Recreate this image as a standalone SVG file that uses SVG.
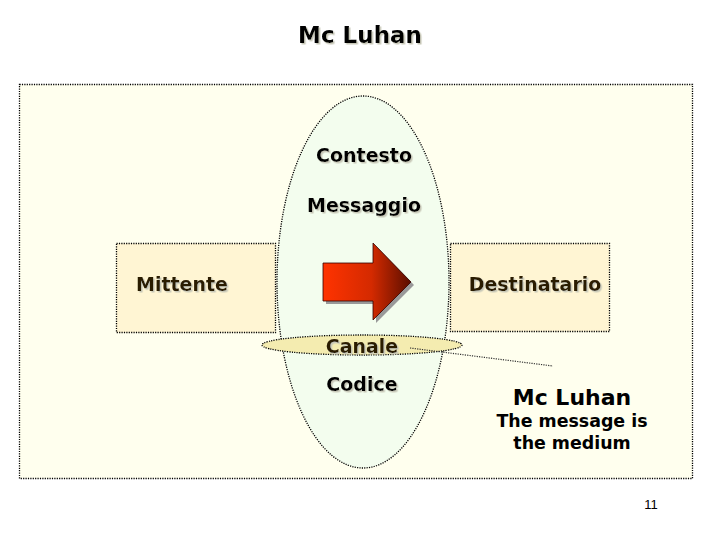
<svg xmlns="http://www.w3.org/2000/svg" width="720" height="540" viewBox="0 0 720 540">
<defs>
<linearGradient id="arrowGrad" x1="0" y1="0" x2="1" y2="0">
<stop offset="0" stop-color="#FF3300"/>
<stop offset="0.55" stop-color="#D42A00"/>
<stop offset="1" stop-color="#5A0E00"/>
</linearGradient>
<filter id="ts" x="-10%" y="-20%" width="120%" height="150%">
<feDropShadow dx="1.5" dy="1.5" stdDeviation="0" flood-color="#C8C8B8"/>
</filter>
</defs>
<style>
.dot{stroke:#000;stroke-width:1.3;stroke-dasharray:1.2 1.2;}
.lbl{font-family:"DejaVu Sans",Verdana,sans-serif;font-weight:bold;font-size:19px;text-anchor:middle;}
.brown{fill:#2B1B00;}
.blk{fill:#000;}
</style>
<rect width="720" height="540" fill="#FFFFFF"/>
<text x="360" y="43" class="lbl blk" style="font-size:23px" filter="url(#ts)">Mc Luhan</text>
<rect id="frame" x="19.5" y="84.5" width="673" height="394" fill="#FFFFEE" class="dot"/>
<g id="mittente">
<rect x="116.5" y="243.5" width="159" height="89" fill="#FFF5D3" class="dot"/>
<text x="182" y="291" class="lbl brown" filter="url(#ts)">Mittente</text>
</g>
<g id="destinatario">
<rect x="450.5" y="243.5" width="159" height="88" fill="#FFF5D3" class="dot"/>
<text x="535" y="291" class="lbl brown" filter="url(#ts)">Destinatario</text>
</g>
<g id="contesto">
<ellipse cx="363" cy="282" rx="86" ry="186" fill="#F3FDEE" class="dot"/>
<text x="364" y="162" class="lbl blk" filter="url(#ts)">Contesto</text>
<text x="364" y="212" class="lbl blk" filter="url(#ts)">Messaggio</text>
<text x="362" y="391" class="lbl blk" filter="url(#ts)">Codice</text>
</g>
<g id="messaggio-arrow">
<polygon points="326,266 376,266 376,246 414,285 376,323 376,304 326,304" fill="#999999"/>
<polygon points="323,263 373,263 373,243 411,282 373,320 373,301 323,301" fill="url(#arrowGrad)" stroke="#330000" stroke-width="0.8"/>
</g>
<g id="canale">
<ellipse cx="362" cy="345" rx="100" ry="10" fill="#F4ECB0" class="dot"/>
<text x="362" y="353" class="lbl brown" filter="url(#ts)">Canale</text>
</g>
<g id="connectors">
<line x1="410" y1="348" x2="553" y2="366" stroke="#333" stroke-width="1.2" stroke-dasharray="1.2 1.2"/>
</g>
<g id="mcluhan-note">
<text x="572" y="405" class="lbl blk" style="font-size:22px">Mc Luhan</text>
<text x="572" y="427" class="lbl blk" style="font-size:17.4px">The message is</text>
<text x="572" y="449" class="lbl blk" style="font-size:17.4px">the medium</text>
</g>
<text x="651" y="509" font-family="Liberation Sans, Arial, sans-serif" font-size="13" text-anchor="middle" fill="#000">11</text>
</svg>
